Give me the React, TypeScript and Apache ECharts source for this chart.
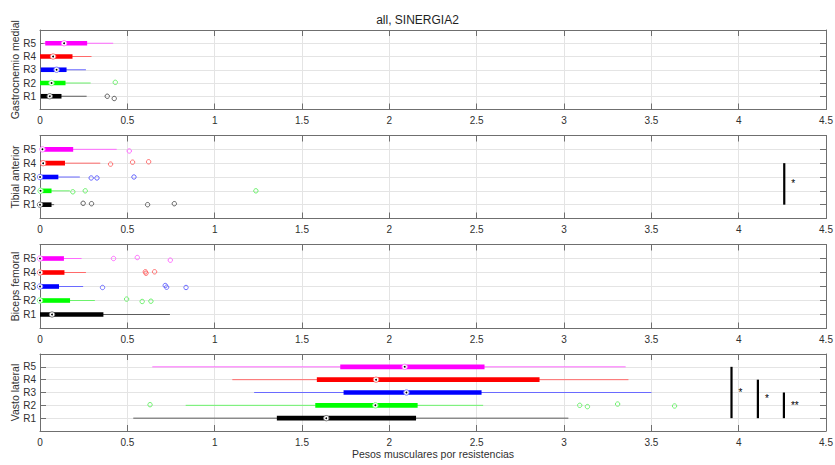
import React, { useEffect, useRef } from "react";
import * as echarts from "echarts";

// Muscles (one panel each) and resistance groups
const muscles = ["Gastrocnemio medial", "Tibial anterior", "Biceps femoral", "Vasto lateral"];
const groups = ["R1", "R2", "R3", "R4", "R5"];
const xTicks = [0, 0.5, 1, 1.5, 2, 2.5, 3, 3.5, 4, 4.5];

// Box statistics per group R1..R5: [whiskerLow, q1, median, q3, whiskerHigh]
const gastrocBoxes = [
  [0, 0.005, 0.056, 0.123, 0.267],
  [0, 0, 0.066, 0.146, 0.29],
  [0, 0.005, 0.095, 0.152, 0.263],
  [0, 0, 0.075, 0.186, 0.295],
  [0.02, 0.03, 0.138, 0.27, 0.419],
];
const tibialBoxes = [
  [0, 0, 0, 0.066, 0.081],
  [0, 0, 0.003, 0.066, 0.171],
  [0, 0, 0, 0.105, 0.228],
  [0, 0.003, 0.018, 0.143, 0.345],
  [0, 0.014, 0.014, 0.19, 0.439],
];
const bicepsBoxes = [
  [0, 0, 0.069, 0.363, 0.744],
  [0, 0, 0, 0.172, 0.314],
  [0, 0, 0, 0.109, 0.247],
  [0, 0, 0, 0.14, 0.263],
  [0, 0, 0, 0.137, 0.238],
];
const vastoBoxes = [
  [0.534, 1.356, 1.639, 2.153, 3.025],
  [0.834, 1.576, 1.92, 2.162, 2.537],
  [1.226, 1.738, 2.098, 2.528, 3.501],
  [1.101, 1.585, 1.924, 2.86, 3.369],
  [0.643, 1.719, 2.088, 2.545, 3.353],
];

// Outliers: [group (1 = R1), value, vertical jitter]
const gastrocOutliers = [
  [1, 0.385, 0], [1, 0.425, -0.17],
  [2, 0.431, 0.05],
];
const tibialOutliers = [
  [1, 0.247, 0.1], [1, 0.295, 0.07], [1, 0.616, 0], [1, 0.769, 0.07],
  [2, 0.188, -0.07], [2, 0.259, 0], [2, 1.236, 0],
  [3, 0.293, -0.07], [3, 0.326, -0.07], [3, 0.538, 0],
  [4, 0.404, -0.07], [4, 0.53, 0.07], [4, 0.622, 0.1],
  [5, 0.511, -0.12],
];
const bicepsOutliers = [
  [2, 0.496, 0.1], [2, 0.585, -0.07], [2, 0.635, -0.05],
  [3, 0.358, -0.07], [3, 0.717, 0.07], [3, 0.725, -0.05], [3, 0.836, -0.07],
  [4, 0.603, 0.05], [4, 0.607, -0.05], [4, 0.656, 0.05],
  [5, 0.421, 0], [5, 0.557, 0.07], [5, 0.746, -0.12],
];
const vastoOutliers = [
  [2, 0.63, 0.05], [2, 3.09, 0], [2, 3.134, -0.1], [2, 3.307, 0.1], [2, 3.633, -0.05],
];

// Significance brackets: [x, fromGroup, toGroup], with their labels
const tibialSig = [[4.261, 1, 4]];
const tibialSigLabels = ["*"];
const vastoSig = [
  [3.959, 1, 5],
  [4.11, 1, 4],
  [4.259, 1, 3],
];
const vastoSigLabels = ["*", "*", "**"];

const panelBoxes = [gastrocBoxes, tibialBoxes, bicepsBoxes, vastoBoxes];
const panelOutliers = [gastrocOutliers, tibialOutliers, bicepsOutliers, vastoOutliers];
const panelSig = [[], tibialSig, [], vastoSig];
const panelSigLabels = [[], tibialSigLabels, [], vastoSigLabels];

const COLORS = ["#000000", "#00ff00", "#0000ff", "#ff0000", "#ff00ff"];
const LIGHT = ["#5c5c5c", "#6cf26c", "#6a6aff", "#ff6a6a", "#ff6aff"];
const RING = ["#7a7a7a", "#80ff80", "#8080ff", "#ff8080", "#ff80ff"];

const FONT = "Liberation Sans, Arial, Helvetica, sans-serif";
const AXIS_COLOR = "#6f6f6f";
const TEXT_COLOR = "#2f2f2f";
const GRID_COLOR = "#e4e4e4";

const gridRects = [
  { top: 30, height: 79.5 },
  { top: 135.5, height: 83 },
  { top: 244.5, height: 84 },
  { top: 354, height: 77 },
];

const renderBox = (params: any, api: any) => {
  const g = api.value(0);
  const y = api.coord([0, g])[1];
  const px = [1, 2, 3, 4, 5].map((i) => api.coord([api.value(i), g])[0]);
  const c = COLORS[g - 1];
  return {
    type: "group",
    children: [
      {
        type: "line",
        shape: { x1: px[0], y1: y, x2: px[4], y2: y },
        style: { stroke: LIGHT[g - 1], lineWidth: 1 },
      },
      {
        type: "rect",
        shape: { x: px[1], y: y - 2.3, width: Math.max(px[3] - px[1], 0), height: 4.6 },
        style: { fill: c },
      },
      {
        type: "circle",
        shape: { cx: px[2], cy: y, r: 2.7 },
        style: { fill: "#ffffff", stroke: RING[g - 1], lineWidth: 1 },
      },
      {
        type: "circle",
        shape: { cx: px[2], cy: y, r: 0.9 },
        style: { fill: "#000000" },
      },
    ],
  };
};

const renderOutlier = (params: any, api: any) => {
  const g = api.value(0);
  const p = api.coord([api.value(1), g + api.value(2)]);
  return {
    type: "circle",
    shape: { cx: p[0], cy: p[1], r: 2.2 },
    style: { fill: "none", stroke: LIGHT[g - 1], lineWidth: 1 },
  };
};

const makeRenderSig = (labels: string[]) => (params: any, api: any) => {
  const x = api.value(0);
  const p1 = api.coord([x, api.value(1)]);
  const p2 = api.coord([x, api.value(2)]);
  return {
    type: "group",
    children: [
      {
        type: "line",
        shape: { x1: p1[0], y1: p1[1], x2: p2[0], y2: p2[1] },
        style: { stroke: "#000000", lineWidth: 2.2 },
      },
      {
        type: "text",
        x: p1[0] + 7,
        y: (p1[1] + p2[1]) / 2,
        style: {
          text: labels[params.dataIndex],
          fill: "#000000",
          fontSize: 10,
          fontFamily: FONT,
          align: "left",
          verticalAlign: "middle",
        },
      },
    ],
  };
};

const edgeColors = (n: number) =>
  Array.from({ length: n }, (_, i) => (i === 0 || i === n - 1 ? "rgba(0,0,0,0)" : GRID_COLOR));

function buildOption() {
  const grid: any[] = [];
  const xAxis: any[] = [];
  const yAxis: any[] = [];
  const series: any[] = [];

  muscles.forEach((name, i) => {
    grid.push({
      left: 40,
      right: 9,
      top: gridRects[i].top,
      height: gridRects[i].height,
      containLabel: false,
      outerBoundsMode: "none",
    });
    const xBase = {
      type: "value",
      gridIndex: i,
      min: 0,
      max: 4.5,
      interval: 0.5,
      axisLine: { show: true, onZero: false, lineStyle: { color: AXIS_COLOR, width: 1 } },
      axisTick: { show: true, inside: true, length: 6, lineStyle: { color: AXIS_COLOR } },
    };
    xAxis.push({
      ...xBase,
      position: "bottom",
      axisLabel: {
        show: true,
        color: TEXT_COLOR,
        fontSize: 10,
        fontFamily: FONT,
        margin: 6,
        formatter: (v: number) => String(v),
      },
      splitLine: { show: true, lineStyle: { color: edgeColors(xTicks.length), width: 1 } },
      name: i === 3 ? "Pesos musculares por resistencias" : "",
      nameLocation: "middle",
      nameGap: 17,
      nameMoveOverlap: false,
      nameTextStyle: { color: TEXT_COLOR, fontSize: 10.5, fontFamily: FONT, verticalAlign: "top" },
    });
    xAxis.push({
      ...xBase,
      position: "top",
      axisLabel: { show: false },
      splitLine: { show: false },
    });
    const yBase = {
      type: "value",
      gridIndex: i,
      min: 0,
      max: 6,
      interval: 1,
      axisLine: { show: true, onZero: false, lineStyle: { color: AXIS_COLOR, width: 1 } },
      axisTick: { show: true, inside: true, length: 6, lineStyle: { color: AXIS_COLOR } },
    };
    yAxis.push({
      ...yBase,
      position: "left",
      axisLabel: {
        show: true,
        color: TEXT_COLOR,
        fontSize: 10,
        fontFamily: FONT,
        margin: 4,
        formatter: (v: number) => (v >= 1 && v <= groups.length ? groups[v - 1] : ""),
      },
      splitLine: { show: true, lineStyle: { color: edgeColors(7), width: 1 } },
      name,
      nameLocation: "middle",
      nameGap: 20,
      nameMoveOverlap: false,
      nameTextStyle: { color: TEXT_COLOR, fontSize: 10.5, fontFamily: FONT },
    });
    yAxis.push({
      ...yBase,
      position: "right",
      axisLabel: { show: false },
      splitLine: { show: false },
    });

    series.push({
      type: "custom",
      xAxisIndex: i * 2,
      yAxisIndex: i * 2,
      renderItem: renderBox,
      encode: { x: [1, 2, 3, 4, 5], y: 0 },
      data: panelBoxes[i].map((b, g) => [g + 1, ...b]),
      z: 3,
    });
    series.push({
      type: "custom",
      xAxisIndex: i * 2,
      yAxisIndex: i * 2,
      renderItem: renderOutlier,
      encode: { x: 1, y: 0 },
      data: panelOutliers[i],
      z: 2,
    });
    if (panelSig[i].length) {
      series.push({
        type: "custom",
        xAxisIndex: i * 2,
        yAxisIndex: i * 2,
        renderItem: makeRenderSig(panelSigLabels[i] as string[]),
        encode: { x: 0, y: [1, 2] },
        data: panelSig[i],
        itemStyle: { color: "#000000" },
        z: 4,
      });
    }
  });

  return {
    animation: false,
    backgroundColor: "#ffffff",
    title: {
      text: "all, SINERGIA2",
      left: "center",
      top: 9,
      textStyle: { fontSize: 12, fontWeight: "normal", color: "#1f1f1f", fontFamily: FONT },
    },
    grid,
    xAxis,
    yAxis,
    series,
  };
}

export default function App() {
  const ref = useRef<HTMLDivElement>(null);
  useEffect(() => {
    if (!ref.current) return;
    const chart = echarts.init(ref.current, null, { renderer: "svg" });
    chart.setOption(buildOption() as any);
    return () => chart.dispose();
  }, []);
  return (
    <div
      ref={ref}
      style={{ position: "fixed", left: 0, top: 0, width: 835, height: 465, background: "#fff" }}
    />
  );
}
